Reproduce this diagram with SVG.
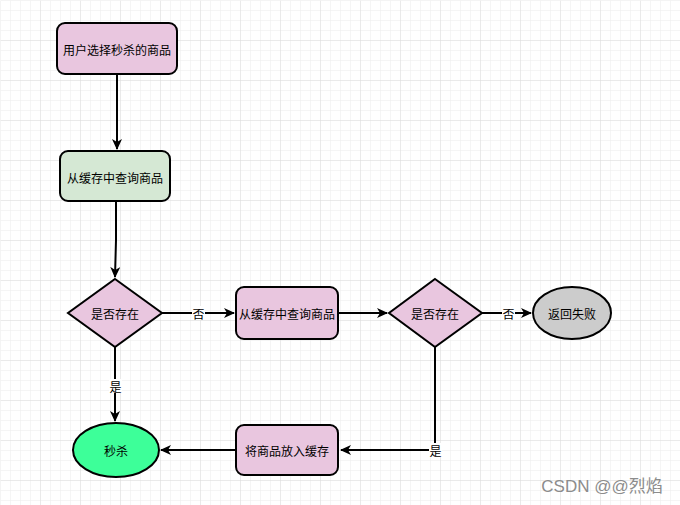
<svg xmlns="http://www.w3.org/2000/svg" width="680" height="505" viewBox="0 0 680 505">
<defs>
<pattern id="minor" width="10" height="10" patternUnits="userSpaceOnUse">
<path d="M10 0H0V10" fill="none" stroke="#ececec" stroke-width="1"/>
</pattern>
<pattern id="major" width="40" height="40" patternUnits="userSpaceOnUse">
<rect width="40" height="40" fill="url(#minor)"/>
<path d="M40 0H0V40" fill="none" stroke="#dedede" stroke-width="1"/>
</pattern>
<marker id="arr" markerWidth="12" markerHeight="10" refX="10" refY="5" orient="auto" markerUnits="userSpaceOnUse">
<path d="M0 0L11 5L0 10L3 5Z" fill="#000"/>
</marker>
</defs>
<style>
.n{stroke:#000;stroke-width:2}
.pink{fill:#e9c6df}
.t{font-family:"Noto Sans CJK SC","Liberation Sans",sans-serif;font-size:12px;fill:#000;text-anchor:middle;dominant-baseline:central}
.e{fill:none;stroke:#000;stroke-width:2}
.lbl{fill:#fff}
</style>
<rect width="680" height="505" fill="#fff"/>
<rect x="0.5" y="0.5" width="680" height="505" fill="url(#major)"/>
<g id="connectors">
<path class="e" d="M117 74V149" marker-end="url(#arr)"/>
<path class="e" d="M116 201V240L115 277" marker-end="url(#arr)"/>
<path class="e" d="M162 313H234" marker-end="url(#arr)"/>
<path class="e" d="M338 313H387" marker-end="url(#arr)"/>
<path class="e" d="M482 313H531" marker-end="url(#arr)"/>
<path class="e" d="M435 347V450H341" marker-end="url(#arr)"/>
<path class="e" d="M236 450H161" marker-end="url(#arr)"/>
<path class="e" d="M115 347V421" marker-end="url(#arr)"/>
<rect class="lbl" x="192" y="306" width="13" height="14"/>
<text class="t" x="198.5" y="313">否</text>
<rect class="lbl" x="502" y="306" width="13" height="14"/>
<text class="t" x="508.5" y="313">否</text>
<rect class="lbl" x="429" y="443" width="13" height="14"/>
<text class="t" x="435.5" y="450">是</text>
<rect class="lbl" x="109" y="379" width="13" height="14"/>
<text class="t" x="115.5" y="386">是</text>
</g>
<g id="n1">
<rect class="n pink" x="57" y="23" width="120" height="51" rx="8"/>
<text class="t" x="117" y="49">用户选择秒杀的商品</text>
</g>
<g id="n2">
<rect class="n" x="60" y="151" width="110" height="50" rx="8" fill="#d5e8d4"/>
<text class="t" x="115" y="177">从缓存中查询商品</text>
</g>
<g id="d1">
<path class="n pink" d="M115 279L162 313L115 347L68 313Z"/>
<text class="t" x="115" y="313">是否存在</text>
</g>
<g id="n3">
<rect class="n pink" x="236" y="287" width="102" height="52" rx="8"/>
<text class="t" x="287" y="313">从缓存中查询商品</text>
</g>
<g id="d2">
<path class="n pink" d="M435 279L482 313L435 347L389 313Z"/>
<text class="t" x="435" y="313">是否存在</text>
</g>
<g id="fail">
<ellipse class="n" cx="572" cy="313" rx="39" ry="26" fill="#cccccc"/>
<text class="t" x="572" y="313">返回失败</text>
</g>
<g id="n4">
<rect class="n pink" x="236" y="425" width="102" height="50" rx="8"/>
<text class="t" x="287" y="450">将商品放入缓存</text>
</g>
<g id="kill">
<ellipse class="n" cx="116" cy="450" rx="43" ry="27" fill="#3dff99"/>
<text class="t" x="116" y="450">秒杀</text>
</g>
<text x="602" y="486" font-family="'Liberation Sans','Noto Sans CJK SC',sans-serif" font-size="17" fill="#8c8c8c" text-anchor="middle" dominant-baseline="central">CSDN @@烈焰</text>
</svg>
